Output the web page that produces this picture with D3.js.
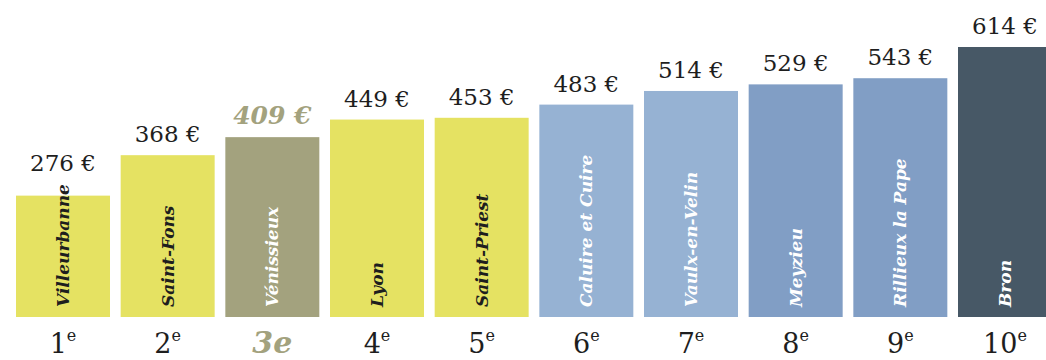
<!DOCTYPE html>
<html lang="fr">
<head>
<meta charset="utf-8">
<script src="https://cdn.jsdelivr.net/npm/d3@7"></script>
<style>
  html, body { margin: 0; padding: 0; background: #fff; }
  svg { display: block; }
  text { font-family: "DejaVu Serif", Georgia, serif; }
</style>
</head>
<body>
<svg id="chart" width="1046" height="360"></svg>
<script>
// Communes ranked by price, with their tier and rank
const communes = ["Villeurbanne", "Saint-Fons", "Vénissieux", "Lyon", "Saint-Priest",
                  "Caluire et Cuire", "Vaulx-en-Velin", "Meyzieu", "Rillieux la Pape", "Bron"];
const prices = [276, 368, 409, 449, 453, 483, 514, 529, 543, 614];
const tiers = ["bas", "bas", "focus", "bas", "bas", "moyen", "moyen", "haut", "haut", "max"];
const ranks = ["1", "2", "3", "4", "5", "6", "7", "8", "9", "10"];
const focusCommune = "Vénissieux";

const svg = d3.select("#chart");
const baseY = 317;

const x = d3.scaleBand()
  .domain(communes)
  .range([16, 1052])
  .paddingInner(0.102)
  .paddingOuter(0);

const y = d3.scaleLinear()
  .domain([0, 614])
  .range([baseY, 47]);

const color = d3.scaleOrdinal()
  .domain(["bas", "focus", "moyen", "haut", "max"])
  .range(["#e5e262", "#a3a27e", "#96b2d3", "#819ec5", "#475866"]);

const nameColor = d3.scaleOrdinal()
  .domain(["bas", "focus", "moyen", "haut", "max"])
  .range(["#1e1e1e", "#ffffff", "#ffffff", "#ffffff", "#ffffff"]);

const data = communes.map((c, i) => ({ name: c, price: prices[i], tier: tiers[i], rank: ranks[i] }));

const g = svg.append("g");

// bars
g.selectAll("rect.bar")
  .data(data)
  .join("rect")
  .attr("class", "bar")
  .attr("x", d => x(d.name))
  .attr("y", d => y(d.price))
  .attr("width", x.bandwidth())
  .attr("height", d => baseY - y(d.price))
  .attr("fill", d => color(d.tier));

// rotated commune names, reading upward from the bar foot
const names = g.selectAll("text.name")
  .data(data)
  .join("text")
  .attr("class", "name")
  .attr("transform", d => `translate(${x(d.name) + x.bandwidth() / 2 + 6},${baseY - 10}) rotate(-90)`)
  .attr("text-anchor", "start")
  .style("font-size", "17px")
  .style("font-weight", "bold")
  .style("font-style", "italic")
  .attr("fill", d => nameColor(d.tier))
  .text(d => d.name);

names.each(function (d) { d.nameTop = baseY - 10 - this.getComputedTextLength(); });

// price labels above the bar (or above the name when it overflows)
g.selectAll("text.price")
  .data(data)
  .join("text")
  .attr("class", "price")
  .attr("x", d => x(d.name) + x.bandwidth() / 2)
  .attr("y", d => Math.min(y(d.price), d.nameTop) - 13)
  .attr("text-anchor", "middle")
  .style("font-size", d => d.name === focusCommune ? "25px" : "23px")
  .style("font-weight", d => d.name === focusCommune ? "bold" : "normal")
  .style("font-style", d => d.name === focusCommune ? "italic" : "normal")
  .attr("fill", d => d.name === focusCommune ? color("focus") : "#1e1e1e")
  .text(d => `${d.price} €`);

// rank labels under the bars
const rankText = g.selectAll("text.rank")
  .data(data)
  .join("text")
  .attr("class", "rank")
  .attr("x", d => x(d.name) + x.bandwidth() / 2)
  .attr("y", 353)
  .attr("text-anchor", "middle")
  .attr("fill", d => d.name === focusCommune ? color("focus") : "#1e1e1e");

rankText.each(function (d) {
  const t = d3.select(this);
  if (d.name === focusCommune) {
    t.style("font-size", "30px").style("font-weight", "bold").style("font-style", "italic")
      .text(d.rank + "e");
  } else {
    t.style("font-size", "27px");
    t.append("tspan").text(d.rank);
    t.append("tspan").attr("dy", -12).style("font-size", "16px").text("e");
  }
});
</script>
</body>
</html>
